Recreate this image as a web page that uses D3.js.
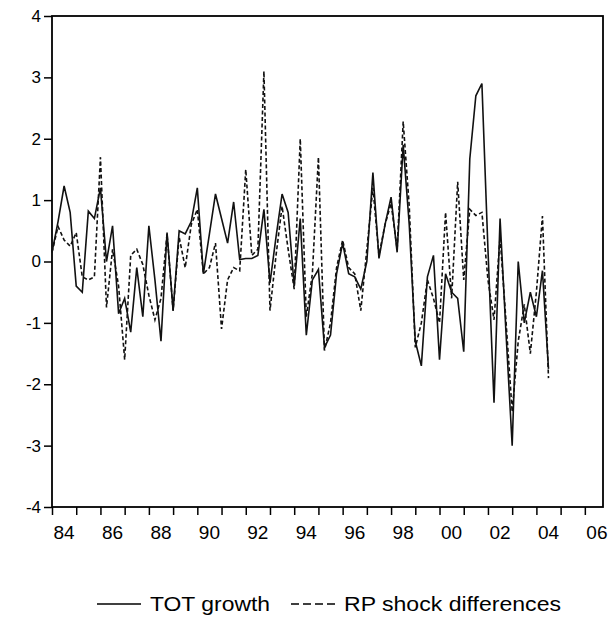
<!DOCTYPE html>
<html>
<head>
<meta charset="utf-8">
<script src="https://cdn.jsdelivr.net/npm/d3@7"></script>
<style>
  body { margin: 0; background: #fff; }
  svg { display: block; font-family: "Liberation Sans", Arial, sans-serif; }
</style>
</head>
<body>
<svg id="chart" width="612" height="619"></svg>
<script>
// quarterly series, 1984Q1 .. 2004Q3
const firstYear = 1984;
const totGrowth = [
  0.15, 0.65, 1.23, 0.8, -0.4, -0.5, 0.82, 0.7,
  1.2, 0.0, 0.58, -0.85, -0.6, -1.15, -0.1, -0.9,
  0.58, -0.3, -1.3, 0.47, -0.8, 0.5, 0.45, 0.65,
  1.2, -0.2, 0.45, 1.1, 0.7, 0.3, 0.97, 0.03,
  0.05, 0.05, 0.1, 0.85, -0.35, 0.4, 1.1, 0.8,
  -0.4, 0.7, -1.2, -0.3, -0.13, -1.4, -1.2, -0.2,
  0.3, -0.2, -0.25, -0.45, 0.0, 1.45, 0.05, 0.6,
  1.05, 0.15, 1.9, 0.6, -1.3, -1.7, -0.25, 0.1,
  -1.6, -0.2, -0.5, -0.6, -1.47, 1.67, 2.7, 2.9,
  0.2, -2.3, 0.7, -1.2, -3.0, 0.0, -1.0, -0.5,
  -0.9, -0.15, -1.75
];
const rpShockDiff = [
  0.15, 0.57, 0.35, 0.25, 0.47, -0.25, -0.3, -0.25,
  1.7, -0.75, 0.2, -0.4, -1.6, 0.1, 0.2, -0.05,
  -0.55, -0.95, -0.6, 0.45, -0.8, 0.4, -0.1, 0.6,
  0.85, -0.2, -0.1, 0.3, -1.1, -0.3, -0.1, -0.15,
  1.5, 0.1, 0.2, 3.1, -0.8, 0.1, 0.9, 0.2,
  -0.45, 2.0, -0.9, -0.2, 1.7, -1.45, -1.0, -0.1,
  0.35, -0.1, -0.2, -0.8, 0.2, 1.2, 0.1, 0.6,
  0.95, 0.2, 2.28, 0.9, -1.4, -1.0, -0.3, -0.6,
  -1.0, 0.8, -0.6, 1.3, -0.3, 0.85, 0.75, 0.8,
  -0.3, -0.95, 0.4, -1.0, -2.45, -1.3, -0.7, -1.5,
  -0.5, 0.74, -1.9
];
const yTicks = [-4, -3, -2, -1, 0, 1, 2, 3, 4];
const xTickLabels = ["84", "86", "88", "90", "92", "94", "96", "98", "00", "02", "04", "06"];
const seriesNames = ["TOT growth", "RP shock differences"];

const svg = d3.select("#chart");
const frame = { left: 52, right: 603, top: 16, bottom: 507 };

const x = d3.scaleLinear().domain([1984, 2006.75]).range([frame.left, frame.right]);
const y = d3.scaleLinear().domain([-4, 4]).range([frame.bottom, frame.top]);

const date = (i) => firstYear + i / 4;

// y axis
const yAxis = svg.append("g")
  .attr("transform", `translate(${frame.left},0)`)
  .call(d3.axisLeft(y).tickValues(yTicks).tickSize(8).tickPadding(3).tickFormat(d3.format("d")));
yAxis.select(".domain").remove();
yAxis.selectAll("line").attr("stroke", "#000").attr("stroke-width", 1.5);
yAxis.selectAll("text").attr("font-size", 17).attr("fill", "#000")
  .attr("font-family", "Liberation Sans, Arial, sans-serif")
  .text((d) => (d < 0 ? "-" + Math.abs(d) : d));

// x axis: a tick per year, labels every other year centred in the year
const xAxis = svg.append("g")
  .attr("transform", `translate(0,${frame.bottom})`)
  .call(d3.axisBottom(x).tickValues(d3.range(1984, 2007)).tickSize(8).tickFormat(""));
xAxis.select(".domain").remove();
xAxis.selectAll("line").attr("stroke", "#000").attr("stroke-width", 1.5);

svg.append("g")
  .selectAll("text")
  .data(xTickLabels)
  .join("text")
  .attr("x", (d, i) => x(1984 + 2 * i + 0.5))
  .attr("y", frame.bottom + 32)
  .attr("text-anchor", "middle")
  .attr("font-size", 19)
  .text((d) => d);

// frame
svg.append("rect")
  .attr("x", frame.left)
  .attr("y", frame.top)
  .attr("width", frame.right - frame.left)
  .attr("height", frame.bottom - frame.top)
  .attr("fill", "none")
  .attr("stroke", "#000")
  .attr("stroke-width", 1.8);

const line = d3.line()
  .x((d, i) => x(date(i)))
  .y((d) => y(d));

svg.append("path")
  .datum(rpShockDiff)
  .attr("d", line)
  .attr("fill", "none")
  .attr("stroke", "#111")
  .attr("stroke-width", 1.6)
  .attr("stroke-dasharray", "4,2.5");

svg.append("path")
  .datum(totGrowth)
  .attr("d", line)
  .attr("fill", "none")
  .attr("stroke", "#111")
  .attr("stroke-width", 1.6);

// legend
const legend = svg.append("g").attr("transform", "translate(0,604)");
legend.append("line")
  .attr("x1", 97).attr("x2", 141).attr("y1", 0).attr("y2", 0)
  .attr("stroke", "#000").attr("stroke-width", 1.6);
legend.append("text")
  .attr("x", 150).attr("y", 7).attr("font-size", 20)
  .attr("textLength", 120).attr("lengthAdjust", "spacingAndGlyphs")
  .text(seriesNames[0]);
legend.append("line")
  .attr("x1", 291).attr("x2", 337).attr("y1", 0).attr("y2", 0)
  .attr("stroke", "#000").attr("stroke-width", 1.6)
  .attr("stroke-dasharray", "8,4");
legend.append("text")
  .attr("x", 344).attr("y", 7).attr("font-size", 20)
  .attr("textLength", 217).attr("lengthAdjust", "spacingAndGlyphs")
  .text(seriesNames[1]);
</script>
</body>
</html>
